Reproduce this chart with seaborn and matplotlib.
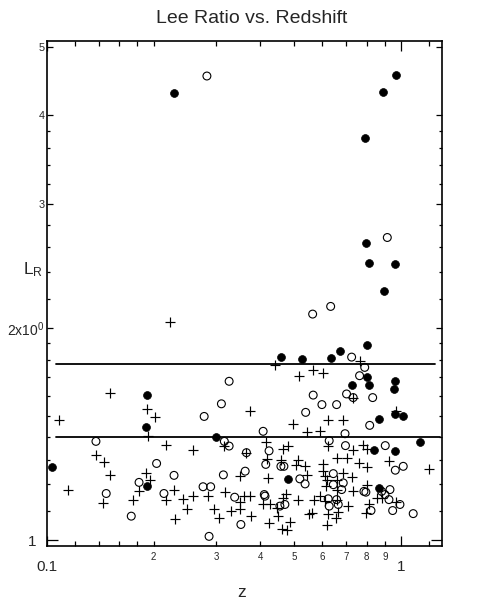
import numpy as np
import pandas as pd
import matplotlib
matplotlib.use("Agg")
import matplotlib.pyplot as plt
import seaborn as sns
from matplotlib.ticker import FixedLocator, FixedFormatter

# ---------------- data ----------------
filled_z = [0.2285, 0.966, 0.888, 0.790, 0.796, 0.810, 0.964, 0.895, 0.458, 0.524,
            0.634, 0.6725, 0.800, 0.800, 0.7255, 0.810, 0.960, 0.954, 0.867, 0.962,
            1.013, 1.131, 0.839, 0.962, 0.867, 0.480, 0.300, 0.192, 0.190, 0.192, 0.103]
filled_L = [4.30, 4.565, 4.322, 3.717, 2.633, 2.472, 2.466, 2.254, 1.819, 1.806,
            1.809, 1.854, 1.888, 1.701, 1.659, 1.657, 1.683, 1.638, 1.486, 1.508,
            1.497, 1.375, 1.341, 1.336, 1.186, 1.222, 1.400, 1.604, 1.445, 1.192, 1.268]

open_z = [0.283, 0.915, 0.633, 0.563, 0.7255, 0.790, 0.764, 0.327, 0.565, 0.598,
          0.658, 0.702, 0.733, 0.832, 0.538, 0.816, 0.695, 0.408, 0.311, 0.278,
          0.1375, 0.317, 0.327, 0.366, 0.424, 0.415, 0.458, 0.467, 0.627, 0.697,
          0.903, 0.964, 1.015, 0.204, 0.2285, 0.315, 0.363, 0.518, 0.536, 0.644,
          0.182, 0.276, 0.290, 0.147, 0.214, 0.339, 0.411, 0.413, 0.455, 0.470,
          0.644, 0.687, 0.680, 0.786, 0.796, 0.882, 0.931, 0.901, 0.925, 0.9935,
          0.623, 0.658, 0.665, 0.627, 0.823, 0.9475, 1.083, 0.173, 0.353, 0.287]
open_L = [4.549, 2.685, 2.144, 2.091, 1.817, 1.757, 1.710, 1.679, 1.605, 1.556,
          1.556, 1.611, 1.592, 1.592, 1.517, 1.454, 1.415, 1.426, 1.560, 1.497,
          1.380, 1.380, 1.359, 1.330, 1.338, 1.280, 1.272, 1.272, 1.383, 1.361,
          1.361, 1.256, 1.272, 1.284, 1.235, 1.237, 1.252, 1.221, 1.201, 1.242,
          1.207, 1.190, 1.190, 1.164, 1.164, 1.150, 1.160, 1.154, 1.117, 1.123,
          1.198, 1.205, 1.179, 1.172, 1.169, 1.172, 1.179, 1.160, 1.141, 1.123,
          1.144, 1.141, 1.123, 1.117, 1.101, 1.101, 1.090, 1.081, 1.052, 1.012]

plus_z = [0.222, 0.766, 0.4415, 0.516, 0.565, 0.603, 0.151, 0.192, 0.202, 0.108,
          0.375, 0.494, 0.621, 0.687, 0.544, 0.590, 0.971, 0.733, 0.1925, 0.217,
          0.1375, 0.145, 0.151, 0.190, 0.195, 0.182, 0.115, 0.144, 0.175, 0.217,
          0.229, 0.230, 0.243, 0.249, 0.258, 0.259, 0.2855, 0.297, 0.306, 0.317,
          0.318, 0.330, 0.351, 0.352, 0.352, 0.361, 0.375, 0.376, 0.366, 0.415,
          0.419, 0.422, 0.408, 0.426, 0.447, 0.450, 0.425, 0.458, 0.465, 0.4805,
          0.465, 0.473, 0.460, 0.4755, 0.486, 0.505, 0.513, 0.513, 0.536, 0.5415,
          0.568, 0.590, 0.603, 0.603, 0.610, 0.617, 0.613, 0.610, 0.559, 0.550,
          0.621, 0.617, 0.623, 0.658, 0.658, 0.658, 0.658, 0.665, 0.654, 0.687,
          0.702, 0.710, 0.7255, 0.733, 0.733, 0.761, 0.7825, 0.803, 0.800, 0.800,
          0.814, 0.795, 0.857, 0.882, 0.927, 0.968, 1.197]
plus_L = [2.035, 1.794, 1.773, 1.706, 1.740, 1.725, 1.616, 1.534, 1.494, 1.481,
          1.525, 1.462, 1.481, 1.480, 1.423, 1.427, 1.525, 1.592, 1.403, 1.363,
          1.322, 1.289, 1.235, 1.244, 1.215, 1.175, 1.179, 1.129, 1.139, 1.139,
          1.179, 1.072, 1.144, 1.105, 1.341, 1.156, 1.154, 1.107, 1.074, 1.359,
          1.169, 1.101, 1.131, 1.108, 1.231, 1.154, 1.154, 1.083, 1.330, 1.377,
          1.303, 1.225, 1.126, 1.123, 1.111, 1.081, 1.058, 1.300, 1.348, 1.361,
          1.148, 1.162, 1.035, 1.033, 1.061, 1.279, 1.300, 1.139, 1.272, 1.238,
          1.141, 1.154, 1.283, 1.254, 1.233, 1.218, 1.192, 1.135, 1.093, 1.089,
          1.090, 1.049, 1.358, 1.307, 1.218, 1.179, 1.141, 1.096, 1.075, 1.245,
          1.307, 1.117, 1.229, 1.340, 1.175, 1.284, 1.362, 1.348, 1.268, 1.198,
          1.126, 1.093, 1.148, 1.148, 1.296, 1.133, 1.259]

# threshold lines
hline_L = [1.777, 1.402]
hline_z_start = [0.1057, 0.1057]
hline_z_end = [1.25, 1.29]

# tick positions / labels
x_major = [0.1, 1.0]
x_major_labels = ["0.1", "1"]
x_minor = [0.12, 0.14, 0.16, 0.18, 0.2, 0.3, 0.4, 0.5, 0.6, 0.7, 0.8, 0.9, 1.2]
x_minor_labels = ["", "", "", "", "2", "3", "4", "5", "6", "7", "8", "9", ""]
y_major = [1.0]
y_major_labels = ["1"]
y_minor = [1.1, 1.2, 1.3, 1.4, 1.5, 1.6, 1.7, 1.8, 1.9, 2.0, 2.2, 2.4, 2.6, 2.8,
           3.0, 3.2, 3.4, 3.6, 3.8, 4.0, 5.0]
y_minor_labels = ["", "", "", "", "", "", "", "", "", r"2x10$^{0}$", "", "", "", "",
                  "3", "", "", "", "", "4", "5"]

# ---------------- plotting ----------------
sns.set_style("ticks")
plt.rcParams["font.family"] = ["Liberation Sans", "DejaVu Sans"]
plt.rcParams["mathtext.fontset"] = "custom"
plt.rcParams["mathtext.rm"] = "Liberation Sans"
plt.rcParams["mathtext.it"] = "Liberation Sans"
plt.rcParams["mathtext.default"] = "regular"

fig = plt.figure(figsize=(4.84, 6.02), dpi=100)
ax = fig.add_axes([0.0971, 0.0930, 0.8161, 0.8389])

df_f = pd.DataFrame({"z": filled_z, "L": filled_L})
df_o = pd.DataFrame({"z": open_z, "L": open_L})
df_p = pd.DataFrame({"z": plus_z, "L": plus_L})

sns.scatterplot(data=df_p, x="z", y="L", ax=ax, marker="+", s=42,
                color="black", linewidth=0.85, zorder=3)
sns.scatterplot(data=df_o, x="z", y="L", ax=ax, marker="o", s=32,
                facecolor="none", edgecolor="black", linewidth=0.8, zorder=3)
sns.scatterplot(data=df_f, x="z", y="L", ax=ax, marker="o", s=32,
                color="black", edgecolor="black", linewidth=0.5, zorder=4)

for yv, x0, x1 in zip(hline_L, hline_z_start, hline_z_end):
    ax.plot([x0, x1], [yv, yv], color="black", linewidth=1.3, zorder=2)

ax.set_xscale("log")
ax.set_yscale("log")
ax.set_xlim(0.1, 1.306)
ax.set_ylim(0.9806, 5.1)

ax.xaxis.set_major_locator(FixedLocator(x_major))
ax.xaxis.set_major_formatter(FixedFormatter(x_major_labels))
ax.xaxis.set_minor_locator(FixedLocator(x_minor))
ax.xaxis.set_minor_formatter(FixedFormatter(x_minor_labels))
ax.yaxis.set_major_locator(FixedLocator(y_major))
ax.yaxis.set_major_formatter(FixedFormatter(y_major_labels))
ax.yaxis.set_minor_locator(FixedLocator(y_minor))
ax.yaxis.set_minor_formatter(FixedFormatter(y_minor_labels))

ax.set_xlabel("")
ax.set_ylabel("")

for s in ax.spines.values():
    s.set_linewidth(1.2)
    s.set_color("black")
    s.set_visible(True)

ax.tick_params(which="both", direction="in", top=True, right=True,
               color="black", width=0.9)
ax.tick_params(axis="x", which="major", length=7, pad=10, labelsize=11)
ax.tick_params(axis="x", which="minor", length=3.6, pad=4, labelsize=7)
ax.tick_params(axis="y", which="major", length=8, pad=7.5, labelsize=11)
ax.tick_params(axis="y", which="minor", length=2.5, pad=1.8, labelsize=7.8)

# medium-length ticks and bigger label for the decade markers on y
yticks = ax.yaxis.get_minor_ticks()
for t, v in zip(yticks, y_minor):
    if v in (2.0, 3.0, 4.0, 5.0):
        t.tick1line.set_markersize(4.3)
        t.tick2line.set_markersize(4.3)
    if v == 2.0:
        t.label1.set_fontsize(10)

fig.text(0.519, 0.970, "Lee Ratio vs. Redshift", ha="center", va="center",
         fontsize=14)
fig.text(0.047, 0.552, r"L$_{\rm R}$", ha="left", va="center", fontsize=12.5)
fig.text(0.500, 0.0166, "z", ha="center", va="center", fontsize=12.5)

fig.savefig("out.png", dpi=100, facecolor="white")
